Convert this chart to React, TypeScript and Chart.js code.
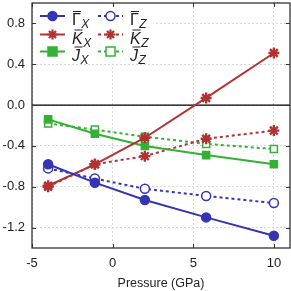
import React, { useEffect, useRef } from "react";
import { Chart, registerables } from "chart.js";

Chart.register(...registerables);

const pressure = [-4, -1.1, 2, 5.8, 10];
const gammaX = [-0.58, -0.76, -0.93, -1.1, -1.28];
const gammaZ = [-0.62, -0.72, -0.82, -0.89, -0.96];
const kX = [-0.79, -0.58, -0.32, 0.07, 0.51];
const kZ = [-0.8, -0.58, -0.5, -0.33, -0.25];
const jX = [-0.14, -0.28, -0.4, -0.49, -0.58];
const jZ = [-0.18, -0.24, -0.31, -0.38, -0.43];
const xTicks = [-5, 0, 5, 10];
const yTicks = [-1.2, -0.8, -0.4, 0, 0.4, 0.8];

const BLUE = "#3434b4";
const RED = "#b23232";
const GREEN = "#34b034";

type Series = {
  letter: string;
  sub: string;
  italic: boolean;
  values: number[];
  color: string;
  style: "circle" | "star" | "rect";
  filled: boolean;
  dashed: boolean;
};

const series: Series[] = [
  { letter: "Γ", sub: "X", italic: false, values: gammaX, color: BLUE, style: "circle", filled: true, dashed: false },
  { letter: "K", sub: "X", italic: true, values: kX, color: RED, style: "star", filled: true, dashed: false },
  { letter: "J", sub: "X", italic: true, values: jX, color: GREEN, style: "rect", filled: true, dashed: false },
  { letter: "Γ", sub: "Z", italic: false, values: gammaZ, color: BLUE, style: "circle", filled: false, dashed: true },
  { letter: "K", sub: "Z", italic: true, values: kZ, color: RED, style: "star", filled: false, dashed: true },
  { letter: "J", sub: "Z", italic: true, values: jZ, color: GREEN, style: "rect", filled: false, dashed: true },
];

function drawMarker(ctx: CanvasRenderingContext2D, s: Series, x: number, y: number) {
  ctx.save();
  ctx.setLineDash([]);
  ctx.strokeStyle = s.color;
  ctx.lineWidth = 1.5;
  if (s.style === "circle") {
    ctx.beginPath();
    ctx.arc(x, y, 4.5, 0, Math.PI * 2);
    ctx.fillStyle = s.filled ? s.color : "#fff";
    ctx.fill();
    ctx.stroke();
  } else if (s.style === "rect") {
    ctx.fillStyle = s.filled ? s.color : "#fff";
    ctx.fillRect(x - 4.5, y - 4.5, 9, 9);
    ctx.strokeRect(x - 4.5, y - 4.5, 9, 9);
  } else {
    ctx.lineWidth = 2.2;
    const r = 5;
    ctx.beginPath();
    for (let i = 0; i < 4; i++) {
      const a = (i * Math.PI) / 4;
      ctx.moveTo(x - r * Math.cos(a), y - r * Math.sin(a));
      ctx.lineTo(x + r * Math.cos(a), y + r * Math.sin(a));
    }
    ctx.stroke();
  }
  ctx.restore();
}

const framePlugin = {
  id: "frame",
  beforeDatasetsDraw(chart: any) {
    const ctx = chart.ctx;
    const ca = chart.chartArea;
    const ys = chart.scales.y;
    ctx.save();
    ctx.fillStyle = "#fff";
    ctx.fillRect(ca.left + 1, ca.top + 1, 120, 60);
    const y0 = ys.getPixelForValue(0);
    ctx.strokeStyle = "#000";
    ctx.lineWidth = 1.3;
    ctx.beginPath();
    ctx.moveTo(ca.left, y0);
    ctx.lineTo(ca.right, y0);
    ctx.stroke();
    ctx.restore();
  },
  afterDatasetsDraw(chart: any) {
    const ctx = chart.ctx;
    const ca = chart.chartArea;
    const xs = chart.scales.x;
    const ys = chart.scales.y;
    ctx.save();
    ctx.strokeStyle = "#333";
    ctx.lineWidth = 1.3;
    ctx.strokeRect(ca.left, ca.top, ca.right - ca.left, ca.bottom - ca.top);
    ctx.lineWidth = 1;
    ctx.beginPath();
    const tl = 4;
    xTicks.forEach((v) => {
      const px = Math.round(xs.getPixelForValue(v)) + 0.5;
      ctx.moveTo(px, ca.bottom);
      ctx.lineTo(px, ca.bottom - tl);
      ctx.moveTo(px, ca.top);
      ctx.lineTo(px, ca.top + tl);
    });
    yTicks.forEach((v) => {
      const py = Math.round(ys.getPixelForValue(v)) + 0.5;
      ctx.moveTo(ca.left, py);
      ctx.lineTo(ca.left + tl, py);
      ctx.moveTo(ca.right, py);
      ctx.lineTo(ca.right - tl, py);
    });
    ctx.stroke();

    // legend
    const cols = [ca.left + 8, ca.left + 66];
    const rows = [ca.top + 13, ca.top + 31.5, ca.top + 48.5];
    series.forEach((s, i) => {
      const col = i < 3 ? 0 : 1;
      const row = i % 3;
      const lx = cols[col];
      const ly = rows[row];
      ctx.save();
      ctx.strokeStyle = s.color;
      ctx.lineWidth = 2;
      ctx.setLineDash(s.dashed ? [3, 3] : []);
      ctx.beginPath();
      ctx.moveTo(lx, ly);
      ctx.lineTo(lx + 25, ly);
      ctx.stroke();
      ctx.restore();
      drawMarker(ctx, s, lx + 12.5, ly);
      const tx = lx + 32;
      ctx.fillStyle = "#222";
      ctx.textBaseline = "alphabetic";
      ctx.textAlign = "left";
      ctx.font = (s.italic ? "italic " : "") + "16px 'Liberation Sans', Arial, sans-serif";
      ctx.fillText(s.letter, tx, ly + 9);
      const w = ctx.measureText(s.letter).width;
      ctx.strokeStyle = "#222";
      ctx.lineWidth = 1;
      ctx.beginPath();
      const off = s.italic ? 2.5 : 1;
      ctx.moveTo(tx + off, ly - 4.5);
      ctx.lineTo(tx + off + Math.min(w, 8), ly - 4.5);
      ctx.stroke();
      ctx.font = "italic 12px 'Liberation Sans', Arial, sans-serif";
      ctx.fillText(s.sub, tx + w + 0.5, ly + 12);
    });
    ctx.restore();
  },
};

function zeroPad(sc: any) {
  sc.paddingTop = 0;
  sc.paddingBottom = 0;
  sc.paddingLeft = 0;
  sc.paddingRight = 0;
}

export default function App() {
  const ref = useRef<HTMLCanvasElement>(null);
  useEffect(() => {
    document.body.style.margin = "0";
    const datasets = series.map((s) => ({
      label: s.letter + s.sub,
      data: pressure.map((p, i) => ({ x: p, y: s.values[i] })),
      borderColor: s.color,
      backgroundColor: s.filled ? s.color : "#fff",
      borderWidth: 2,
      borderDash: s.dashed ? [3, 3] : [],
      pointStyle: s.style === "rect" ? "rect" : s.style === "star" ? "star" : "circle",
      pointRadius: s.style === "star" ? 5.5 : s.style === "rect" ? 5 : 4.5,
      pointBorderWidth: s.style === "star" ? 2.4 : 1.5,
      pointBorderColor: s.color,
      pointBackgroundColor: s.filled ? s.color : "#fff",
      tension: 0,
    }));
    const font = { family: "'Liberation Sans', Arial, sans-serif", size: 13 };
    const titleFont = { family: "'Liberation Sans', Arial, sans-serif", size: 12.5 };
    const chart = new Chart(ref.current!, {
      type: "line",
      data: { datasets },
      plugins: [framePlugin],
      options: {
        animation: false,
        responsive: false,
        layout: { autoPadding: false, padding: { top: 3, right: 1, left: 0, bottom: 0 } },
        plugins: { legend: { display: false }, tooltip: { enabled: false } },
        scales: {
          x: {
            type: "linear",
            min: -5,
            max: 11,
            afterBuildTicks: (sc: any) => {
              sc.ticks = xTicks.map((v) => ({ value: v }));
            },
            afterFit: (sc: any) => {
              sc.height = 43;
              zeroPad(sc);
            },
            grid: { color: "#d8d8d8", drawTicks: false, lineWidth: 1 },
            border: { display: false, dash: [2, 2] },
            ticks: { color: "#222", font, padding: 8, maxRotation: 0 },
            title: {
              display: true,
              text: "Pressure (GPa)",
              color: "#222",
              font: titleFont,
              padding: { top: 3, bottom: 0 },
            },
          },
          y: {
            type: "linear",
            min: -1.4,
            max: 1.0,
            afterBuildTicks: (sc: any) => {
              sc.ticks = yTicks.map((v) => ({ value: v }));
            },
            afterFit: (sc: any) => {
              sc.width = 32;
              zeroPad(sc);
            },
            grid: { color: "#d8d8d8", drawTicks: false, lineWidth: 1 },
            border: { display: false, dash: [2, 2] },
            ticks: {
              color: "#222",
              font,
              padding: 7,
              callback: (v: any) => Number(v).toFixed(1),
            },
          },
        },
      },
    });
    return () => chart.destroy();
  }, []);
  return (
    <div style={{ position: "absolute", left: 0, top: 0 }}>
      <canvas ref={ref} width={291} height={291} style={{ width: 291, height: 291 }} />
    </div>
  );
}
